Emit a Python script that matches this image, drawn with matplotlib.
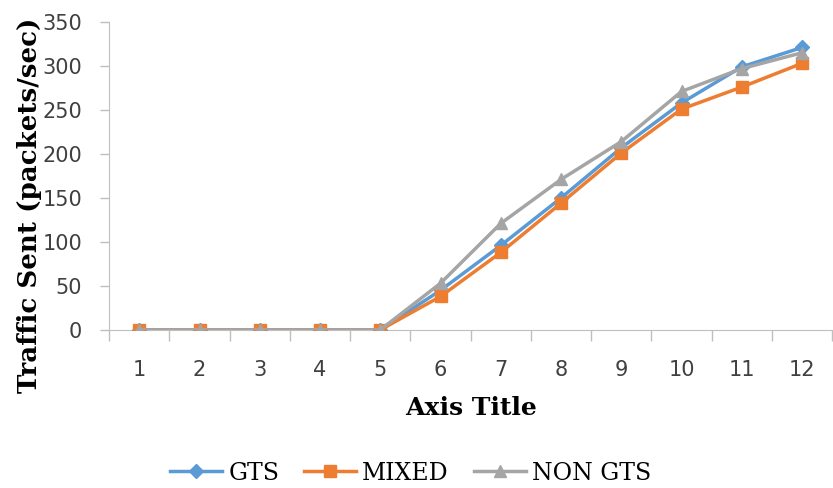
import matplotlib.pyplot as plt

categories = ['1', '2', '3', '4', '5', '6', '7', '8', '9', '10', '11', '12']
gts = [0, 0, 0, 0, 0, 45, 96, 150, 207, 258, 299, 321]
mixed = [0, 0, 0, 0, 0, 38, 88, 144, 201, 251, 276, 303]
non_gts = [0, 0, 0, 0, 0, 53, 121, 171, 214, 271, 297, 315]

axis_grey = '#BFBFBF'

fig = plt.figure(figsize=(8.33, 4.88), dpi=100)
ax = fig.add_axes([0.131, 0.324, 0.868, 0.631])

x = range(len(categories))
ax.plot(x, gts, color='#5B9BD5', lw=2.5, marker='D', ms=7, label='GTS')
ax.plot(x, mixed, color='#ED7D31', lw=2.5, marker='s', ms=8, label='MIXED')
ax.plot(x, non_gts, color='#A5A5A5', lw=2.5, marker='^', ms=9, label='NON GTS')

ax.set_xlim(-0.5, len(categories) - 0.5)
ax.set_ylim(0, 350)
ax.set_yticks(range(0, 351, 50))
ax.set_xticks(list(x))
ax.set_xticklabels(categories)
# category ticks sit between the points
ax.set_xticks([i - 0.5 for i in range(len(categories) + 1)], minor=True)
ax.tick_params(axis='x', which='major', length=0, pad=22)
ax.tick_params(axis='x', which='minor', length=8, color=axis_grey, width=1)
ax.tick_params(axis='y', length=6.5, color=axis_grey, width=1, pad=13)

for lbl in ax.get_xticklabels() + ax.get_yticklabels():
    lbl.set_fontfamily('DejaVu Sans')
    lbl.set_fontsize(15)
    lbl.set_color('#404040')

for side in ['top', 'right']:
    ax.spines[side].set_visible(False)
ax.spines['left'].set_color(axis_grey)
ax.spines['bottom'].set_color(axis_grey)
ax.spines['bottom'].set_zorder(0)

ax.set_ylabel('Traffic Sent (packets/sec)', family='DejaVu Serif',
              fontweight='bold', fontsize=18.8)
# the y title hangs lower than the axis centre
ax.yaxis.set_label_coords(-0.093, 0.405)
ax.set_xlabel('Axis Title', family='DejaVu Serif', fontweight='bold',
              fontsize=18, labelpad=11)

fig.legend(loc='center', bbox_to_anchor=(0.493, 1 - 473 / 488), ncol=3,
           frameon=False, handlelength=2.2, columnspacing=1.06, handletextpad=0.25,
           prop={'family': 'DejaVu Serif', 'size': 17})

fig.savefig('out.png')
